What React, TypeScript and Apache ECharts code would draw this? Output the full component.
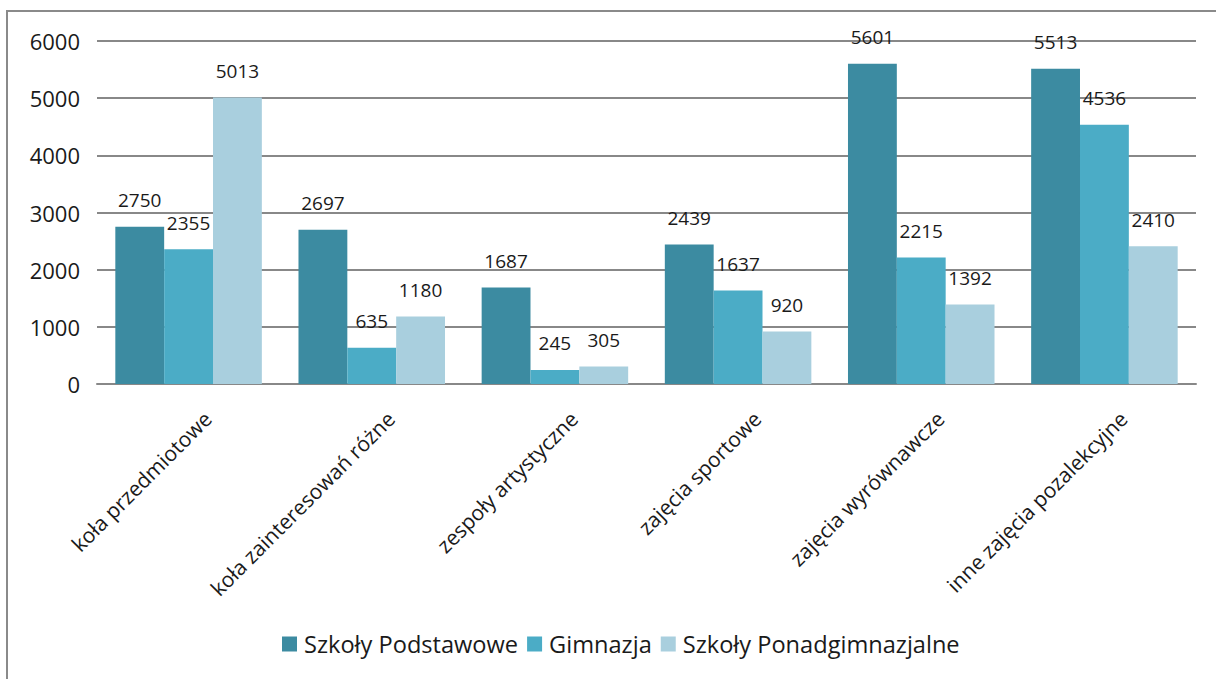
import React, { useEffect, useRef } from "react";
import * as echarts from "echarts";

const categories = [
  "koła przedmiotowe",
  "koła zainteresowań różne",
  "zespoły artystyczne",
  "zajęcia sportowe",
  "zajęcia wyrównawcze",
  "inne zajęcia pozalekcyjne",
];
const seriesNames = ["Szkoły Podstawowe", "Gimnazja", "Szkoły Ponadgimnazjalne"];
const podstawowe = [2750, 2697, 1687, 2439, 5601, 5513];
const gimnazja = [2355, 635, 245, 1637, 2215, 4536];
const ponadgimnazjalne = [5013, 1180, 305, 920, 1392, 2410];
const colors = ["#3C8BA1", "#4BACC6", "#A9CFDE"];

const FONT = "'Open Sans', 'Noto Sans', sans-serif";

export default function App() {
  const ref = useRef<HTMLDivElement>(null);
  useEffect(() => {
    if (!ref.current) return;
    const chart = echarts.init(ref.current, undefined, { renderer: "svg" });
    const values = [podstawowe, gimnazja, ponadgimnazjalne];
    chart.setOption({
      animation: false,
      backgroundColor: "#ffffff",
      color: colors,
      textStyle: { fontFamily: FONT },
      graphic: [
        {
          type: "rect",
          shape: { x: 7, y: 11, width: 1400, height: 900 },
          style: { fill: "none", stroke: "#8a8a8a", lineWidth: 2 },
          silent: true,
        },
      ],
      grid: { left: 97, right: 20, top: 41, bottom: 295, containLabel: false },
      legend: {
        data: seriesNames,
        bottom: 18,
        left: 277,
        itemWidth: 15,
        itemHeight: 15,
        itemGap: 9,
        icon: "rect",
        textStyle: { fontSize: 23.6, color: "#1a1a1a", fontFamily: FONT, padding: [0, 0, 0, 2] },
      },
      xAxis: {
        type: "category",
        data: categories,
        axisTick: { show: false },
        axisLine: { show: true, lineStyle: { color: "#888888", width: 2 } },
        axisLabel: {
          rotate: 45,
          fontSize: 21,
          color: "#1a1a1a",
          margin: 12,
          interval: 0,
          verticalAlign: "top",
          lineHeight: 54,
          fontFamily: FONT,
        },
      },
      yAxis: {
        type: "value",
        min: 0,
        max: 6000,
        interval: 1000,
        axisLine: { show: false },
        axisTick: { show: false },
        splitLine: { lineStyle: { color: "#888888", width: 2 } },
        axisLabel: {
          fontSize: 22,
          color: "#1a1a1a",
          margin: 17,
          fontFamily: FONT,
          formatter: (v: number) => String(v),
        },
      },
      series: seriesNames.map((name, i) => ({
        name,
        type: "bar",
        data: values[i],
        barGap: "0%",
        barCategoryGap: "20%",
        itemStyle: { color: colors[i] },
        label: {
          show: true,
          position: "top",
          distance: 17,
          fontSize: 19,
          color: "#1a1a1a",
          fontFamily: FONT,
        },
      })),
    });
    return () => chart.dispose();
  }, []);
  return (
    <div
      ref={ref}
      style={{ position: "absolute", left: 0, top: 0, width: 1216, height: 679 }}
    />
  );
}
